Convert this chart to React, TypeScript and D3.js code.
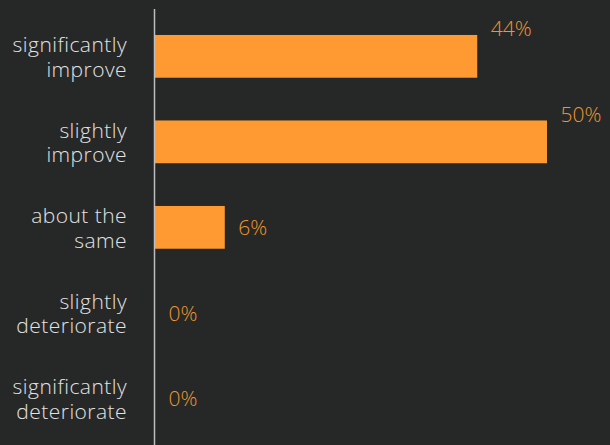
import React from "react";
import * as d3 from "d3";

const categories: string[][] = [
  ["significantly", "improve"],
  ["slightly", "improve"],
  ["about the", "same"],
  ["slightly", "deteriorate"],
  ["significantly", "deteriorate"],
];
// bar lengths (percent scale)
const barValues: number[] = [41.1, 50, 8.9, 0, 0];
const valueLabels: string[] = ["44%", "50%", "6%", "0%", "0%"];

const W = 610;
const H = 445;
const BG = "#262828";
const BAR = "#FF9A33";
const LABEL_ORANGE = "#F0952F";
const FONT = "'Open Sans', Lato, sans-serif";

export default function App() {
  const ids = categories.map((_, i) => String(i));
  const y = d3.scaleBand<string>().domain(ids).range([13.6, 441.1]).paddingInner(0.5).paddingOuter(0.25);
  const x = d3.scaleLinear().domain([0, 50]).range([155, 547]);
  const x0 = x(0);
  return (
    <svg
      width={W}
      height={H}
      style={{ position: "absolute", left: 0, top: 0, background: BG, display: "block" }}
    >
      <rect x={0} y={0} width={W} height={H} fill={BG} />
      {categories.map((lines, i) => {
        const id = ids[i];
        const yt = y(id)!;
        const bw = y.bandwidth();
        const cy = yt + bw / 2;
        const xe = x(barValues[i]);
        const above = xe > 400;
        return (
          <g key={id}>
            <rect x={x0} y={yt} width={Math.max(0, xe - x0)} height={bw} fill={BAR} />
            <text
              x={xe + 13.5}
              y={above ? yt + 1.5 : cy + 8}
              fill={LABEL_ORANGE}
              fontFamily={FONT}
              fontWeight={300}
              fontSize={21}
            >
              {valueLabels[i]}
            </text>
            <text
              textAnchor="end"
              fill="#E2E2E2"
              fontFamily={FONT}
              fontWeight={300}
              fontSize={21}
              letterSpacing={0.45}
            >
              {lines.map((l, j) => (
                <tspan key={j} x={127} y={cy + 8.25 + (j - (lines.length - 1) / 2) * 24.5}>
                  {l}
                </tspan>
              ))}
            </text>
          </g>
        );
      })}
      <line x1={154.5} x2={154.5} y1={9} y2={H} stroke="#BDBDBD" strokeWidth={1.5} />
    </svg>
  );
}
